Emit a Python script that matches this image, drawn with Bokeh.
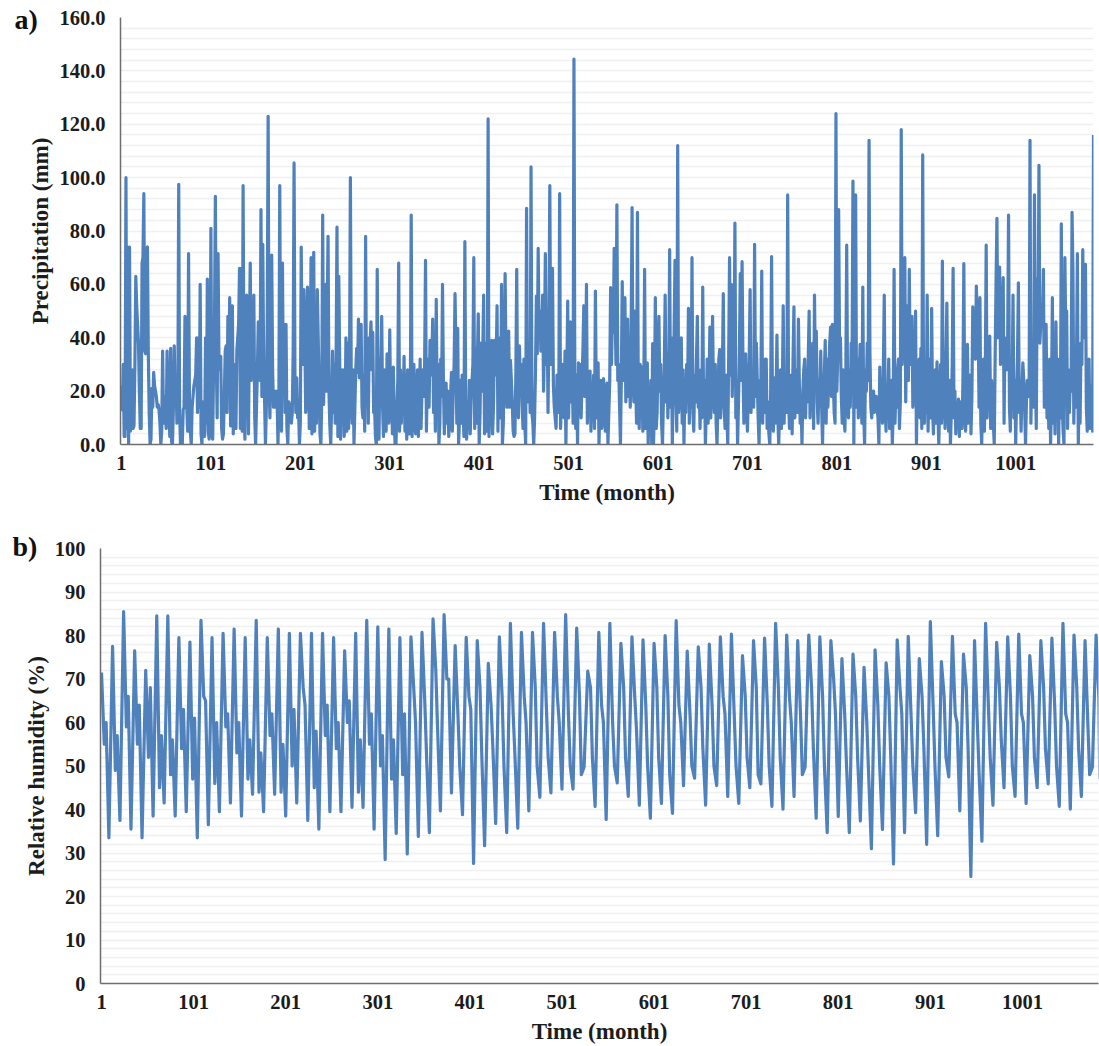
from bokeh.plotting import figure
from bokeh.layouts import column
from bokeh.models import Range1d, FixedTicker, SingleIntervalTicker, NumeralTickFormatter, Title
from bokeh.embed import file_html
from bokeh.resources import INLINE

# monthly precipitation, ten months per row
precip = [
    22,13,30,3,3,100,6,74,0,74,
    5,8,28,6,7,30,63,52,45,38,
    20,6,6,68,70,94,35,34,73,74,
    34,12,0,2,21,14,27,22,20,18,
    14,15,13,8,0,5,35,8,16,18,
    6,35,18,15,3,36,1,0,13,37,
    18,25,8,13,97.5,12,0,4,0,13,
    14,48,47,14,5,71.5,16,5,0,14,
    18,22,24,26,40,12,40,14,60,4,
    0,16,6,3,40,8,62,5,2,12,
    81,4,2,30,45,93,32,10,71.5,30,
    28,33,6,2,4,18,35,37,12,48,
    30,55,7,20,52,4,30,16,6,35,
    40,45,66,6,66,5,97,22,2,32,
    56,52,4,40,68,24,36,30,56,10,
    0,14,28,46,38,24,88,18,75,30,
    17,0,14,45,123,24,10,35,71,28,
    14,20,14,20,18,0,16,97,20,5,
    68,20,45,12,45,6,0,16,15,12,
    8,12,35,105.5,25,12,25,10,14,0,
    8,74,32,30,58,42,12,18,59,38,
    6,32,70,4,30,72,5,40,8,58,
    40,22,4,0,18,86,15,32,60,20,
    48,78,20,7,0,14,35,12,30,8,
    32,81.5,3,63,32,2,28,10,28,3,
    8,40,5,38,6,28,100,18,8,28,
    0,14,28,36,27,47,25,34,45,14,
    10,26,5,78,18,32,8,40,38,46,
    28,42,12,15,3,0,65.6,12,2,32,
    25,48,14,3,28,12,5,34,12,8,
    43,12,18,4,29,8,0,0,14,24,
    68,5,28,8,24,12,33,5,26,2,
    28,10,4,16,86,3,18,30,8,4,
    20,28,3,14,32,6,20,28,18,30,
    69,5,24,32,14,39,26,30,47,12,
    28,5,54.4,14,30,0,8,32,18,60,
    24,4,14,23,8,20,3,10,18,27,
    5,20,30,56.5,35,8,43.5,0,10,24,
    8,26,12,3,76,10,2,16,6,24,
    4,16,24,30,70,6,36,8,32,49,
    0,12,38,20,34,56,4,38,18,5,
    122,3,16,8,39,4,14,39,26,30,
    52,5,36,40,10,60,0,8,30,64,
    30,14,34,42.5,14,31.5,24,16,5,3,
    4,26,65.6,14,10,37,24,30,16,6,
    32,8,0,88.5,16,24,34,12,104,12,
    8,0,10,28,55.6,34,73.5,40,50,35,
    40,56,20,38,71.5,30,50,12,45,97,
    30,45,66,22,14,10,6,26,20,12,
    94,6,16,30,14,10,35,0,24,53.7,
    10,32,46,16,30,8,144.4,18,6,26,
    0,30.6,14,30,10,24,35,52,18,28,
    60,8,24,12,27.5,5,20,14,26,6,
    57.5,14,10,30.6,0,16,24,6,10,24.7,
    16,5,20,23,0,12,24,58.8,30,50,
    42,73.5,50,30,89.8,24,30,14,0,26,
    61,24,30,55,16,34,47,18,28,14,
    45,88.8,24,16,50,24,8,87,14,6,
    30,24,29,5,14,65.6,6,20,30.6,0,
    14,5,24,0,37.8,0,16,55,6,12,
    34,48,20,30,8,0,16,28,56,16,
    34,10,24,73,14,40,0,24,42,69,
    18,5,112,12,18,34,40,8,28,0,
    20,12,30,16,51,8,32,14,70,12,
    5,26,16,32,48,14,24,6,28,10,
    59,12,24,0,14,32,8,20,44,10,
    26,48,20,12,30,8,0,16,32,35.6,
    10,20,28,56.5,14,6,26,12,0,32,
    70,26,60,18,34,30,83,10,24,0,
    16,34,64,24,68.5,30,8,24,34,14,
    5,20,32,58,12,28,18,14,75,18,
    38,24,10,0,24,20,65,8,24,12,
    32,32,6,16,4,0,20,70.4,14,5,
    25,8,16,41,10,0,14,28,6,18,
    52,8,24,20,12,93.5,18,6,14,26,
    4,32,51.6,10,20,28,12,47,24,8,
    16,0,20,28,32,10,24,16,32,50,
    10,24,14,38,6,56,24,42.5,16,8,
    24,18,35,14,0,20,26,39,8,32,
    14,28,38,44,18,45,24,12,8,124,
    20,34,88,36,40,18,8,28,10,5,
    24,74.7,20,10,28,14,38,30,98.7,0,
    62,93.5,14,32,10,24,37.5,18,8,59,
    12,0,28,20,38,24,114,34,14,10,
    16,20,12,18,18,14,10,0,29,10,
    20,8,28,56,14,5,22,16,32,6,
    18,24,0,12,65.6,8,20,14,28,32,
    6,16,118,30,45,40,70,16,40,52,
    24,65.6,30,36,48,14,28,20,50,0,
    24,14,32,10,36,6,108.5,16,8,28,
    12,56,5,24,32,10,51,14,4,20,
    28,8,31,12,0,16,30,8,68.7,10,
    20,6,30,53,14,5,24,0,12,30,
    66,10,20,4,14,8,17,3,16,12,
    6,24,67.75,12,5,20,37.5,8,14,26,
    4,18,51.6,34,40,32,59.4,45,48,14,
    55,8,0,20,32,5,28,74.7,10,24,
    14,40.6,6,24,16,8,0,32,60,84.7,
    40,52,66.5,30,50,45,62.5,8,40,30,
    28,38,86,14,5,30,20,56,10,24,
    0,18,32,60.6,12,24,5,20,30.6,24,
    14,0,16,24,20,18,114,8,32,18,
    14,93.5,30,6,62,40,104.6,38,45,48,
    45,65.6,14,30,45,10,24,6,32,0,
    16,55,8,20,4,46,14,32,0,24,
    10,82.7,16,5,0,70,40,50,6,28,
    12,24,20,87,65.6,8,30,14,32,71.5,
    0,20,8,38,30,73,40,50,67.5,14,
    5,16,32,6,10,22,5,116,
]

# yearly humidity cycle: top, first drop, second reading, bottom
rh_peak = [
    71.5,77.5,85.5,76.5,72,84.5,84.5,79.5,78.5,83.5,
    79.5,80.5,81.5,79.5,83.5,79.5,81.5,80.5,80.5,80.5,
    80.5,79.5,76.5,80.5,83.5,82,81.5,79.5,79.7,80.7,
    83.8,84.8,77.7,79.6,78.8,73.6,79.7,82.8,80.7,80.7,
    82.8,80.7,84.8,81.7,71.8,80.7,82.8,78.2,79.7,79,
    78.2,80,83.4,76.4,77.4,78,79.7,80.3,75.4,78.8,
    79.4,82.8,80.1,78.8,80.1,79.7,78.8,74.7,75.7,72.7,
    76.7,73.7,79,79.8,74.7,83.2,74,79.8,75.7,78.8,
    82.8,78.4,79.7,80.3,75.4,78.8,79.4,82.8,80.1,78.8,
    80.1,
]
rh_drop = [
    55,49,59,55,52,45,48,54,47,66,
    46,59,53,47,44,57,44,50,68,45,
    57,54,60,44,55,50,47,48,68,65,
    72,70,62,66,68,64,66,62,66,68,
    64,66,62,66,68,64,60,68,66,64,
    68,66,64,62,68,64,66,62,66,68,
    64,68,66,62,68,66,70,62,66,60,
    64,66,68,62,66,64,66,62,68,60,
    64,68,66,62,66,68,64,62,68,60,
    66,
]
rh_second = [
    60,57,66,64,68,57,56,63,61,65,
    60,62,60,56,53,62,55,63,64,58,
    64,60,65,56,62,57,56,62,60,52,
    58,70,50,63,52,54,50,52,60,50,
    52,60,50,48,52,60,50,52,58,50,
    52,48,60,50,54,50,62,50,52,48,
    50,52,60,48,54,50,62,50,52,48,
    50,52,62,50,54,50,52,60,54,48,
    52,56,50,60,52,54,50,60,54,48,
    52,
]
rh_trough = [
    33.5,37.5,35.5,33.5,38.5,41.5,38.5,39.5,33.5,36.5,
    39.5,41.5,38.5,43.5,39.5,43.5,38.5,41.5,37.5,35.5,
    39.5,39.5,40.5,40.5,35.5,28.5,34.5,29.8,33.8,34.7,
    39.7,43.8,38.8,27.6,31.7,36.8,34.7,35.7,39.7,42.8,
    43.8,44.7,44.7,49.7,40.7,37.7,46.1,43,41,38,
    41.4,39.1,45.5,47.2,41,45.5,43,41.4,45,45.9,
    40.7,40.1,43,49.7,38,34.7,38.4,34.7,37.4,31,
    35.4,27.5,34.7,39.3,32,34,47.5,39.7,24.6,32.7,
    41,45,43,41.4,45,45.9,40.7,40.1,43,49.7,
    47,
]

month_ticks = [1, 101, 201, 301, 401, 501, 601, 701, 801, 901, 1001]

months_a = list(range(1, len(precip) + 1))

months_b = []
humidity = []
for k in range(len(rh_peak) - 1):
    months_b += [1 + 12*k, 4 + 12*k, 6 + 12*k, 9 + 12*k]
    humidity += [rh_peak[k], rh_drop[k], rh_second[k], rh_trough[k]]
# the series stops a few months after the last top
months_b += [1081, 1084, 1085]
humidity += [rh_peak[-1], rh_drop[-1], rh_trough[-1]]

SERIF = "Liberation Serif"
BLUE = "#4f81bd"


def panel(x, y, xr, ymax, step, height, left, right, top, bottom, ylabel, yfmt, tag, tag_off, tag_stand, ylab_off, xlab_off):
    p = figure(width=1099, height=height, x_range=Range1d(*xr), y_range=Range1d(0, ymax),
               output_backend="svg", toolbar_location=None, frame_align=False,
               min_border_left=left, min_border_right=right, min_border_top=top, min_border_bottom=bottom,
               x_axis_label="Time (month)", y_axis_label=ylabel)
    p.outline_line_color = None
    p.xgrid.visible = False
    p.ygrid.grid_line_color = None
    p.ygrid.minor_grid_line_color = "#f0f0f0"
    p.ygrid.minor_grid_line_width = 1.5

    p.yaxis.ticker = SingleIntervalTicker(interval=step, num_minor_ticks=5)
    p.ygrid.ticker = p.yaxis.ticker
    p.xaxis.ticker = FixedTicker(ticks=month_ticks)
    for ax in (p.xaxis[0], p.yaxis[0]):
        ax.major_tick_line_color = None
        ax.minor_tick_line_color = None
        ax.axis_line_color = "#6e6e6e"
        ax.axis_line_width = 1.5
        ax.major_label_text_font = SERIF
        ax.major_label_text_font_style = "bold"
        ax.major_label_text_font_size = "20.5px"
        ax.major_label_text_color = "#1c1c1c"
        ax.axis_label_text_font = SERIF
        ax.axis_label_text_font_style = "bold"
        ax.axis_label_text_font_size = "23px"
        ax.axis_label_text_color = "#1c1c1c"
    p.yaxis.major_label_standoff = 9
    p.xaxis.major_label_standoff = 5
    p.yaxis.axis_label_standoff = ylab_off
    p.xaxis.axis_label_standoff = xlab_off
    if yfmt:
        p.yaxis.formatter = NumeralTickFormatter(format=yfmt)

    p.line(x, y, line_color=BLUE, line_width=3.2, line_join="round")

    # labels get clipped to the frame, a title does not
    p.add_layout(Title(text=tag, align="left", offset=tag_off, standoff=tag_stand,
                       text_font=SERIF, text_font_style="bold", text_font_size="28px",
                       text_color="#111111"), "above")
    return p


pa = panel(months_a, precip, (-0.1, 1088), 160, 20, 520, 120, 6, 17, 76,
           "Precipitation (mm)", "0.0", "a)", -106, -35, 3, 7)
pb = panel(months_b, humidity, (-0.1, 1083.6), 100, 10, 526, 100, 1, 28, 63,
           "Relative humidity (%)", None, "b)", -88, -26, 3, 7)

layout = column(pa, pb, spacing=0)

open("out.html", "w").write(file_html(layout, INLINE))
